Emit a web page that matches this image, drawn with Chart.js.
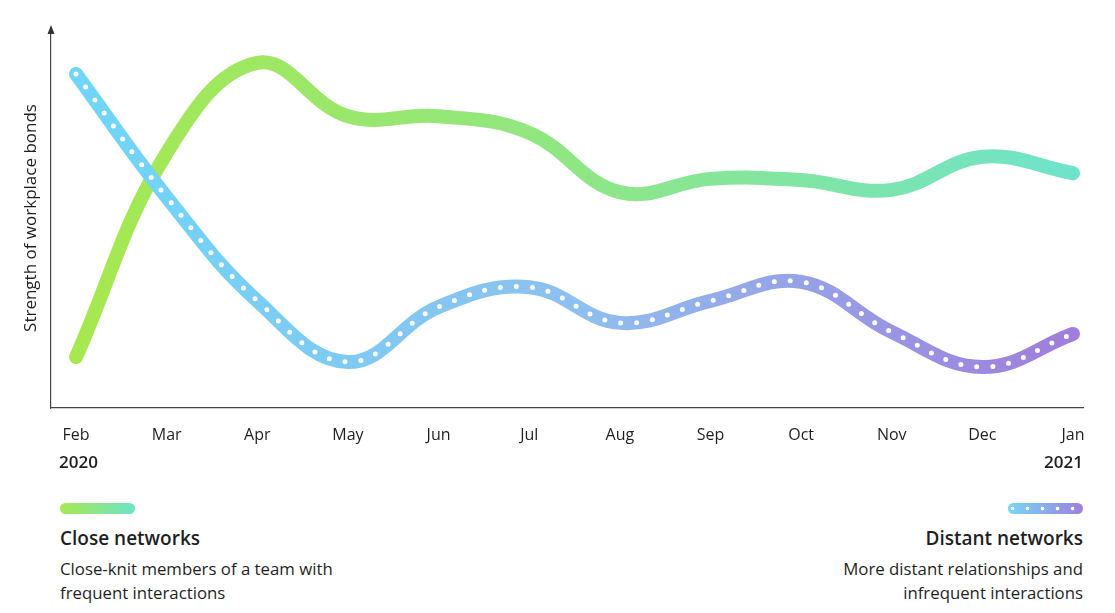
<!DOCTYPE html>
<html>
<head>
<meta charset="utf-8">
<script src="https://cdn.jsdelivr.net/npm/chart.js@4.4.1/dist/chart.umd.min.js"></script>
<style>
  body { margin: 0; background: #fff; font-family: "Open Sans", "Noto Sans", sans-serif; color: #1f1f1f; }
  #wrap { position: relative; width: 1115px; height: 613px; overflow: hidden; }
  #chart { position: absolute; left: 0; top: 0; }
  .swatch { position: absolute; top: 503px; width: 75px; height: 11px; border-radius: 6px; }
  #closeSwatch { left: 60px; background: linear-gradient(90deg, #a6e84f, #6fe3c8); }
  #distantSwatch {
    left: 1008px;
    background: radial-gradient(circle, #fff 1.5px, rgba(255,255,255,0) 2.2px) -3px 0 / 15px 11px repeat-x,
                linear-gradient(90deg, #76d8f6, #9d7fdf);
  }
  .legend { position: absolute; top: 523px; width: 360px; }
  .legend h3 { margin: 0; font-size: 19px; font-weight: 600; line-height: 30px; }
  .legend p { margin: 4px 0 0; font-size: 16.8px; line-height: 24px; }
  #closeLegend { left: 60px; }
  #distantLegend { right: 32px; text-align: right; }
</style>
</head>
<body>
<div id="wrap">
  <canvas id="chart" width="1115" height="480"></canvas>
  <div class="swatch" id="closeSwatch"></div>
  <div class="swatch" id="distantSwatch"></div>
  <div class="legend" id="closeLegend">
    <h3>Close networks</h3>
    <p>Close-knit members of a team with<br>frequent interactions</p>
  </div>
  <div class="legend" id="distantLegend">
    <h3>Distant networks</h3>
    <p>More distant relationships and<br>infrequent interactions</p>
  </div>
</div>
<script>
// Data (relative strength, 0-100)
const months = ['Feb', 'Mar', 'Apr', 'May', 'Jun', 'Jul', 'Aug', 'Sep', 'Oct', 'Nov', 'Dec', 'Jan'];
const closeNetworks = [13.4, 67.1, 90.8, 76.8, 76.8, 72.4, 56.8, 60.3, 60.0, 57.4, 66.1, 61.8];
const distantNetworks = [87.9, 55.5, 28.2, 12.1, 26.6, 31.8, 22.4, 28.2, 33.2, 20.0, 10.8, 19.5];
const yearLabels = ['2020', '2021'];

const closeColors = ['#a6e84f', '#8fe684', '#6fe3cb'];
const distantColors = ['#6fd6f7', '#8ec0ef', '#a07ddc'];

function toPoints(values) {
    return values.map((v, i) => ({ x: i, y: v }));
}

function makeGradient(chart, stops) {
    const { ctx, chartArea } = chart;
    if (!chartArea) return stops[0];
    const g = ctx.createLinearGradient(chartArea.left + 25, 0, chartArea.right - 10, 0);
    stops.forEach((c, i) => g.addColorStop(i / (stops.length - 1), c));
    return g;
}

// Arrow on the y axis and the year labels under the first/last month
const decorations = {
    id: 'decorations',
    afterDraw(chart) {
        const { ctx, chartArea } = chart;
        ctx.save();
        ctx.fillStyle = '#333';
        ctx.beginPath();
        ctx.moveTo(chartArea.left, chartArea.top - 3);
        ctx.lineTo(chartArea.left - 3.5, chartArea.top + 6);
        ctx.lineTo(chartArea.left + 3.5, chartArea.top + 6);
        ctx.closePath();
        ctx.fill();

        ctx.fillStyle = '#1f1f1f';
        ctx.font = '600 17px "Open Sans", "Noto Sans", sans-serif';
        ctx.textBaseline = 'middle';
        ctx.textAlign = 'left';
        ctx.fillText(yearLabels[0], chartArea.left + 8, 463);
        ctx.textAlign = 'right';
        ctx.fillText(yearLabels[1], chartArea.right, 463);
        ctx.restore();
    }
};

const lineTension = 0.4;

new Chart(document.getElementById('chart'), {
    type: 'line',
    data: {
        datasets: [
            {
                label: 'Distant dots',
                data: toPoints(distantNetworks),
                borderColor: '#ffffff',
                borderWidth: 5,
                borderDash: [0, 16],
                borderCapStyle: 'round',
                pointRadius: 0,
                tension: lineTension,
                order: 0
            },
            {
                label: 'Distant networks',
                data: toPoints(distantNetworks),
                borderColor: ctx => makeGradient(ctx.chart, distantColors),
                borderWidth: 14,
                borderCapStyle: 'round',
                borderJoinStyle: 'round',
                pointRadius: 0,
                tension: lineTension,
                order: 1
            },
            {
                label: 'Close networks',
                data: toPoints(closeNetworks),
                borderColor: ctx => makeGradient(ctx.chart, closeColors),
                borderWidth: 14,
                borderCapStyle: 'round',
                borderJoinStyle: 'round',
                pointRadius: 0,
                tension: lineTension,
                order: 2
            }
        ]
    },
    options: {
        responsive: false,
        animation: false,
        layout: { padding: { top: 28, right: 32, left: 0, bottom: 0 } },
        plugins: {
            legend: { display: false },
            tooltip: { enabled: false }
        },
        scales: {
            x: {
                type: 'linear',
                min: -0.276,
                max: 11.11,
                afterBuildTicks: axis => { axis.ticks = months.map((_, i) => ({ value: i })); },
                afterFit: axis => { axis.height = 72; },
                grid: { display: false, drawTicks: false },
                border: { display: true, color: '#444', width: 1.2 },
                ticks: {
                    autoSkip: false,
                    maxRotation: 0,
                    padding: 18,
                    color: '#1f1f1f',
                    font: { family: '"Open Sans", "Noto Sans", sans-serif', size: 16 },
                    callback: value => months[value]
                }
            },
            y: {
                min: 0,
                max: 100,
                afterFit: axis => { axis.width = 51; },
                grid: { display: false, drawTicks: false },
                border: { display: true, color: '#444', width: 1.2 },
                ticks: { display: false },
                title: {
                    display: true,
                    text: 'Strength of workplace bonds',
                    color: '#1f1f1f',
                    padding: { top: 21, bottom: 0 },
                    font: { family: '"Open Sans", "Noto Sans", sans-serif', size: 17 }
                }
            }
        }
    },
    plugins: [decorations]
});
</script>
</body>
</html>
